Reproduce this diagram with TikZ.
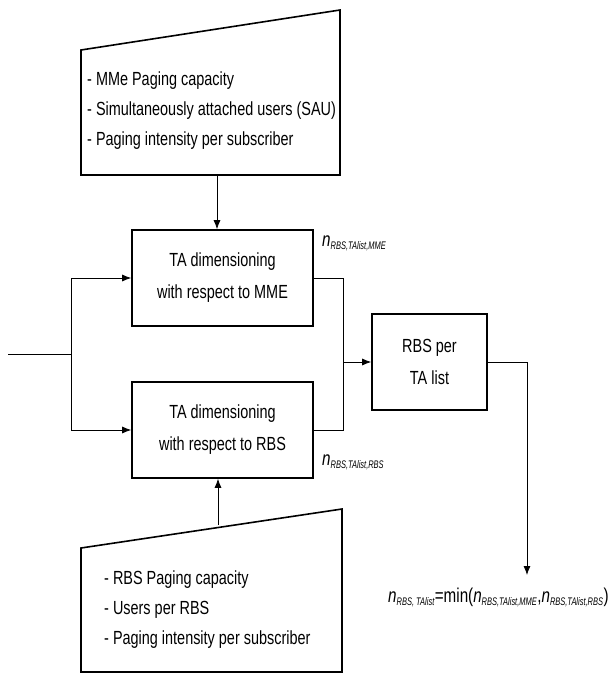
\documentclass[tikz,border=0pt]{standalone}
\usepackage{fontspec}
\setmainfont[FakeStretch=0.76]{Liberation Sans}
\newfontfamily\subfont[FakeStretch=0.68]{Liberation Sans}
\usetikzlibrary{arrows.meta,calc}
\tikzset{
  box/.style={draw, line width=1.6pt, rectangle, align=center, font=\fontsize{19}{32}\selectfont},
  conn/.style={line width=0.8pt},
  arr/.style={conn, -{Latex[length=9pt,width=7pt]}},
  shapeline/.style={line width=1.6pt, line join=miter},
  listtxt/.style={align=left, anchor=north west, font=\fontsize{19}{30}\selectfont, inner sep=0pt},
  lbl/.style={anchor=base west, inner sep=0pt, font=\fontsize{20}{22}\selectfont}
}
\newcommand{\sbx}[1]{\textsubscript{\fontsize{11}{11}\subfont\itshape #1}}
\begin{document}
\begin{tikzpicture}[x=1pt,y=-1pt]
\useasboundingbox (0,0) rectangle (614,675);
% top manual input shape
\coordinate (t1) at (81,50);
\coordinate (t2) at (340,10);
\coordinate (t3) at (340,175);
\coordinate (t4) at (81,175);
\draw[shapeline] (t1) -- (t2) -- (t3) -- (t4) -- cycle;
\node[listtxt] (ttxt) at (87,72) {- MMe Paging capacity\\- Simultaneously attached users (SAU)\\- Paging intensity per subscriber};
\coordinate (tout) at (217,175);
% bottom manual input shape
\coordinate (b1) at (81,548);
\coordinate (b2) at (342,509);
\coordinate (b3) at (342,672);
\coordinate (b4) at (81,672);
\draw[shapeline] (b1) -- (b2) -- (b3) -- (b4) -- cycle;
\node[listtxt] (btxt) at (104,571) {- RBS Paging capacity\\- Users per RBS\\- Paging intensity per subscriber};
\coordinate (bout) at (218,525);
% boxes
\node[box, minimum width=181pt, minimum height=96pt] (mme) at (222.5,278) {TA dimensioning\\with respect to MME};
\node[box, minimum width=181pt, minimum height=96pt] (rbs) at (222.5,430) {TA dimensioning\\with respect to RBS};
\node[box, minimum width=115pt, minimum height=96pt] (per) at (429.5,362) {RBS per\\TA list};
% connectors
\coordinate (in) at (8,354);
\coordinate (br) at (71,354);
\coordinate (mg) at (343,362);
\coordinate (oend) at (527,575);
\draw[conn] (in) -- (br);
\draw[arr] (br) |- (mme.west);
\draw[arr] (br) |- (rbs.west);
\draw[conn] (mme.east) -| (mg);
\draw[conn] (rbs.east) -| (mg);
\draw[arr] (mg) -- (per.west);
\draw[arr] (per.east) -| (oend);
\draw[arr] (tout) -- (mme.north -| tout);
\draw[arr] (bout) -- (rbs.south -| bout);
% labels
\node[lbl] (l1) at (322,246) {\textit{n}\sbx{RBS,TAlist,MME}};
\node[lbl] (l2) at (322,465) {\textit{n}\sbx{RBS,TAlist,RBS}};
\node[lbl] (l3) at (388,602) {\textit{n}\sbx{RBS, TAlist}=min(\textit{n}\sbx{RBS,TAlist,MME},\textit{n}\sbx{RBS,TAlist,RBS})};
\end{tikzpicture}
\end{document}
